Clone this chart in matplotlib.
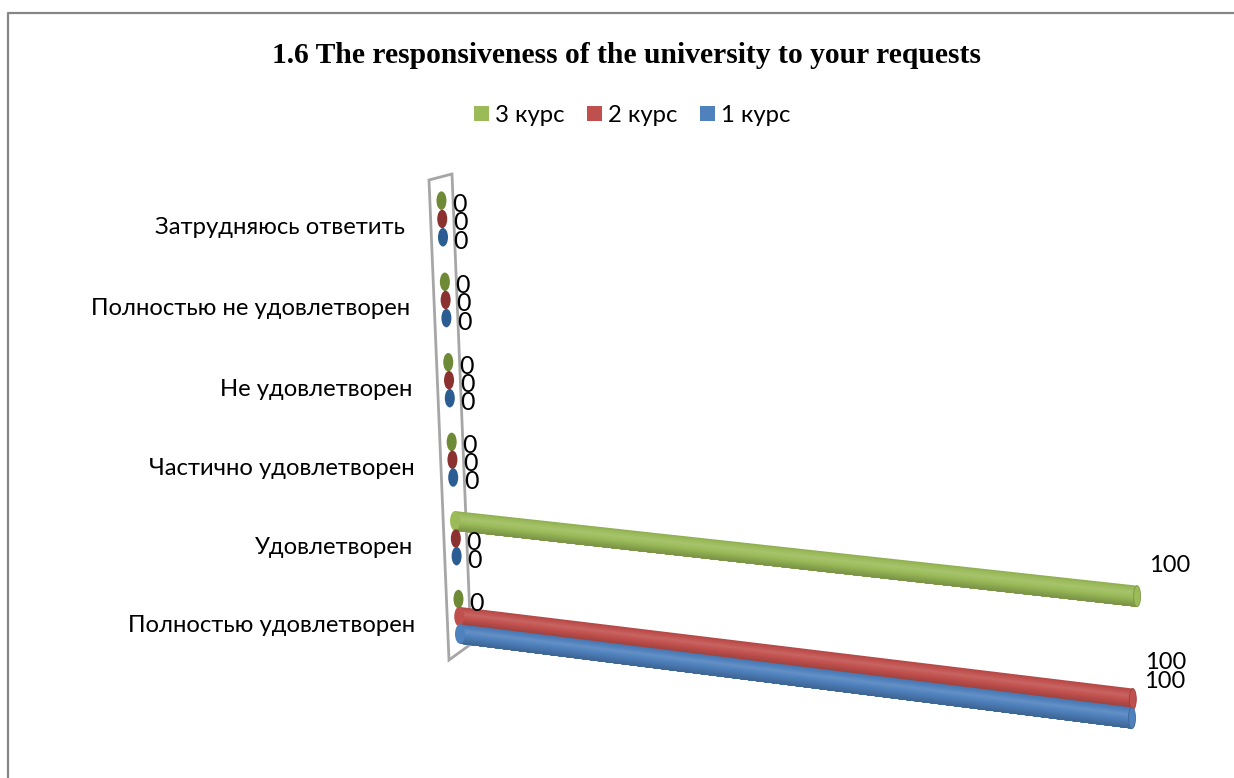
#!/usr/bin/env python3
"""Horizontal 3D cylinder chart, redrawn flat with a hand-made perspective."""

import numpy as np
import matplotlib
matplotlib.use('Agg')  # Non-interactive backend
import matplotlib.pyplot as plt
from matplotlib.patches import Ellipse, Polygon, Rectangle

TITLE = '1.6 The responsiveness of the university to your requests'
categories = ['Полностью удовлетворен', 'Удовлетворен', 'Частично удовлетворен',
              'Не удовлетворен', 'Полностью не удовлетворен', 'Затрудняюсь ответить']
# bottom to top, same order as categories
course_1 = [100, 0, 0, 0, 0, 0]
course_2 = [100, 0, 0, 0, 0, 0]
course_3 = [0, 100, 0, 0, 0, 0]
series_names = ['1 курс', '2 курс', '3 курс']
colors = ['#4f81bd', '#c0504d', '#9bbb59']
dark_colors = ['#2c5d92', '#8b3230', '#6f8a36']

FONT = ['Lato', 'Open Sans', 'DejaVu Sans']
SERIES_STEP = 0.225
BAR_HALF = 0.125
LABEL_RIGHT = [415, 413, 415, 412, 410, 405]  # labels had uneven trailing spaces


def project(value, row):
    """Map (value 0-100, row in category units) to picture pixels"""
    t = value / 100.0
    x_left = 460 - 3.4 * row
    y_left = 634 - 77.5 * row - 0.37 * row ** 2
    x_right = 1132 + 3.5 * row
    y_right = 718 - 84 * row
    return x_left + (x_right - x_left) * t, y_left + (y_right - y_left) * t


def shade(color, factor):
    rgb = np.array(matplotlib.colors.to_rgb(color))
    if factor < 1:
        return tuple(rgb * factor)
    return tuple(rgb + (1 - rgb) * (factor - 1))


def draw_cylinder(ax, value, row, color, zorder):
    """Paint shrinking bands from top to bottom so no seams show between them"""
    n = 24
    edges = np.linspace(row + BAR_HALF, row - BAR_HALF, n + 1)
    bottom = edges[-1]
    for i in range(n):
        pos = (i + 0.5) / n
        if pos < 0.35:
            factor = 0.92 + 0.2 * pos / 0.35
        else:
            factor = 1.12 - 0.34 * (pos - 0.35) / 0.65
        pts = [project(0, edges[i]), project(value, edges[i]),
               project(value, bottom), project(0, bottom)]
        ax.add_patch(Polygon(pts, closed=True, fc=shade(color, factor), ec='none', zorder=zorder))
    x0, y0 = project(0, row)
    top = project(0, row + BAR_HALF)[1]
    ax.add_patch(Ellipse((x0, y0), 10, abs(y0 - top) * 2,
                         fc=shade(color, 1.0), ec='none', zorder=zorder))
    x1, y1 = project(value, row)
    top = project(value, row + BAR_HALF)[1]
    ax.add_patch(Ellipse((x1, y1), 7, abs(y1 - top) * 2,
                         fc=shade(color, 1.0), ec=shade(color, 0.8), lw=0.6, zorder=zorder))


def main():
    fig = plt.figure(figsize=(12.34, 7.78), dpi=100, facecolor='white')
    ax = fig.add_axes([0, 0, 1, 1])
    ax.set_xlim(0, 1234)
    ax.set_ylim(778, 0)
    ax.axis('off')

    # chart area border, only left and top survive in the crop
    ax.plot([7.5, 7.5, 1234], [778, 12.5, 12.5], color='#868686', lw=1.6, zorder=1)

    ax.text(627, 55.5, TITLE, family='Liberation Serif', weight='bold', fontsize=21.3,
            ha='center', va='center', color='black')

    # legend is reversed compared with the series order
    legend_x = [474, 587, 700]
    for x, i in zip(legend_x, [2, 1, 0]):
        ax.add_patch(Rectangle((x, 106), 15, 15, fc=colors[i], ec='none'))
        ax.text(x + 21, 115, series_names[i], family=FONT, fontsize=17.2,
                ha='left', va='center', color='black')

    # back wall of the 3D box
    wall = Polygon([(429, 180), (452, 174), (471, 644), (449, 660)], closed=True,
                   fc='white', ec='#a6a6a6', lw=2, zorder=2)
    ax.add_patch(wall)

    for i, name in enumerate(categories):
        y = project(0, i + SERIES_STEP)[1] + 9
        ax.text(LABEL_RIGHT[i], y, name, family=FONT, fontsize=17.2,
                ha='right', va='center', color='black')

    series = [course_1, course_2, course_3]
    for cat in reversed(range(len(categories))):
        for s in reversed(range(len(series))):
            value = series[s][cat]
            row = cat + s * SERIES_STEP
            zorder = 10 + (len(categories) - cat) * 3 + (2 - s)
            if value > 0:
                draw_cylinder(ax, value, row, colors[s], zorder)
                x, y = project(value, row)
                ax.text(x + 33, y - 31 if s == 2 else y - 37, str(value), family=FONT, fontsize=17,
                        ha='center', va='center', color='black', zorder=60)
            else:
                x, y = project(0, row)
                ax.add_patch(Ellipse((x, y), 10, 18.5, fc=dark_colors[s], ec='none', zorder=zorder))
                ax.text(x + 18, y + 4, str(value), family=FONT, fontsize=18,
                        ha='center', va='center', color='black', zorder=60)

    plt.savefig('out.png', dpi=100)
    plt.close()


if __name__ == '__main__':
    main()
